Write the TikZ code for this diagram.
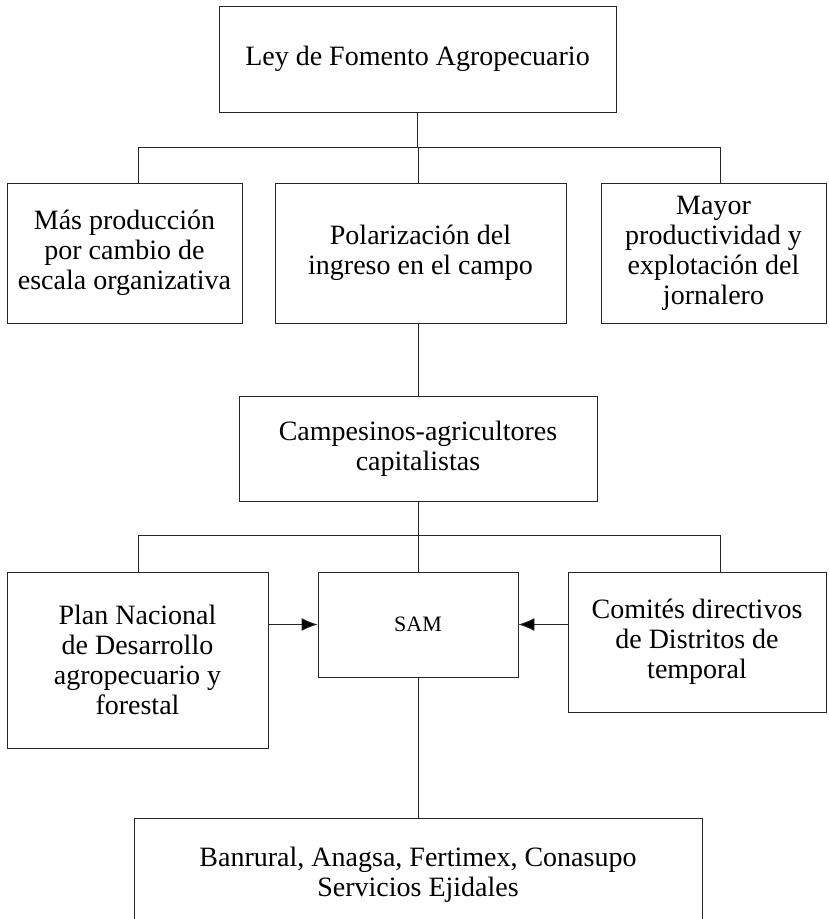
\documentclass[tikz,border=0pt]{standalone}
\usepackage{fontspec}
\setmainfont{Liberation Serif}
\usetikzlibrary{arrows.meta}
\begin{document}
\begin{tikzpicture}[x=1pt,y=-1pt,
  line width=0.9pt,
  box/.style={draw=black!85, rectangle, inner sep=0pt, align=center,
    font=\fontsize{28}{30}\selectfont},
  link/.style={draw=black!85},
  arr/.style={draw=black!85, -{Latex[length=16pt,width=13pt,fill=black]}}]
\useasboundingbox (0,0) rectangle (828,919);

% boxes
\node[box, minimum width=397pt, minimum height=106pt] (ley) at (417.5,59) {Ley de Fomento Agropecuario};
\node[box, minimum width=235pt, minimum height=140pt] (mas) at (124.5,253) {Más producción\\por cambio de\\escala organizativa};
\node[box, minimum width=291pt, minimum height=140pt] (pol) at (420.5,253) {Polarización del\\ingreso en el campo};
\node[box, minimum width=225pt, minimum height=140pt] (may) at (713.5,253) {Mayor\\productividad y\\explotación del\\jornalero};
\node[box, minimum width=358pt, minimum height=105pt] (camp) at (418,448.5) {Campesinos-agricultores\\capitalistas};
\node[box, minimum width=261pt, minimum height=176pt] (plan) at (137.5,660) {Plan Nacional\\de Desarrollo\\agropecuario y\\forestal};
\node[box, minimum width=200pt, minimum height=105pt, font=\fontsize{22}{26}\selectfont] (sam) at (418,624.5) {SAM};
\node[box, minimum width=258pt, minimum height=140pt] (com) at (697,642) {Comités directivos\\de Distritos de\\temporal};
\node[box, minimum width=568pt, minimum height=114pt] (bot) at (418,875) {Banrural, Anagsa, Fertimex, Conasupo\\Servicios Ejidales};

% upper bus
\coordinate (busA) at (418,147);
\coordinate (busAl) at (138,147);
\coordinate (busAr) at (720,147);
\draw[link] (ley.south) -- (ley.south |- busA);
\draw[link] (busAl) -- (busAr);
\draw[link] (busAl) -- (busAl |- mas.north);
\draw[link] (busA) -- (busA |- pol.north);
\draw[link] (busAr) -- (busAr |- may.north);

% middle link
\draw[link] (pol.south -| camp.north) -- (camp.north);

% lower bus
\coordinate (busB) at (418,535);
\coordinate (busBl) at (138,535);
\coordinate (busBr) at (720,535);
\draw[link] (camp.south) -- (busB);
\draw[link] (busBl) -- (busBr);
\draw[link] (busBl) -- (busBl |- plan.north);
\draw[link] (busB) -- (sam.north);
\draw[link] (busBr) -- (busBr |- com.north);

% arrows into SAM
\draw[arr] (plan.east |- sam.center) -- (sam.west);
\draw[arr] (com.west |- sam.center) -- (sam.east);

% SAM to bottom box
\draw[link] (sam.south) -- (bot.north);
\end{tikzpicture}
\end{document}
